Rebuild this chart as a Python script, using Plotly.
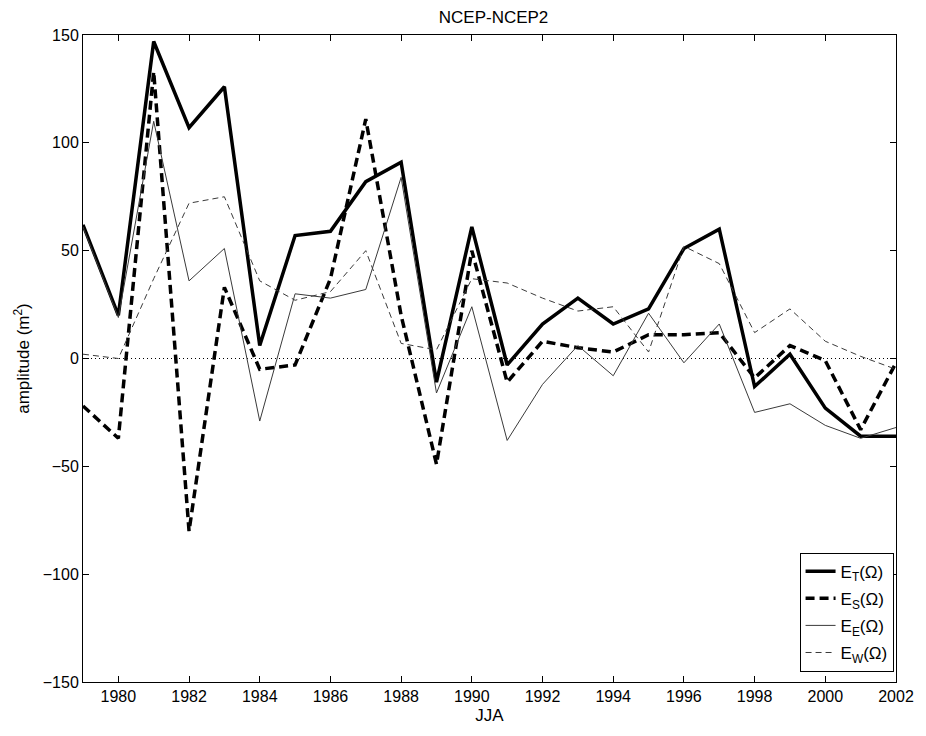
import plotly.graph_objects as go

# JJA seasons
years = list(range(1979, 2003))

# Energy amplitude components (m^2)
e_total = [62, 20, 147, 107, 126, 6, 57, 59, 82, 91, -11, 61, -3, 16, 28, 16, 23,
           51, 60, -13, 2, -23, -36, -36]
e_s = [-22, -37, 133, -80, 33, -5, -3, 37, 111, 20, -49, 50, -11, 8, 5, 3, 11,
       11, 12, -9, 6, -1, -33, -2]
e_e = [61, 19, 110, 36, 51, -29, 30, 28, 32, 84, -16, 24, -38, -12, 6, -8, 21,
       -2, 16, -25, -21, -31, -37, -32]
e_w = [2, 0, 37, 72, 75, 36, 27, 31, 50, 7, 4, 37, 35, 28, 22, 24, 3,
       52, 44, 12, 23, 8, 1, -5]

x_ticks = list(range(1980, 2003, 2))
y_ticks = [-150, -100, -50, 0, 50, 100, 150]

FONT = "Liberation Sans, Arial, Helvetica, sans-serif"

fig = go.Figure()

fig.add_trace(go.Scatter(x=[years[0], years[-1]], y=[0, 0], mode="lines",
                         line=dict(color="black", width=1, dash="1px,3px"),
                         showlegend=False, hoverinfo="skip"))

fig.add_trace(go.Scatter(x=years, y=e_total, mode="lines", name="E<sub>T</sub>(Ω)",
                         legendgroup="t", line=dict(color="black", width=3.5)))
fig.add_trace(go.Scatter(x=years, y=e_s, mode="lines", name="E<sub>S</sub>(Ω)",
                         legendgroup="s",
                         line=dict(color="black", width=3.5, dash="9px,5px")))
fig.add_trace(go.Scatter(x=years, y=e_e, mode="lines", name="E<sub>E</sub>(Ω)",
                         legendgroup="e", line=dict(color="#3a3a3a", width=1)))
fig.add_trace(go.Scatter(x=years, y=e_w, mode="lines", name="E<sub>W</sub>(Ω)",
                         legendgroup="w",
                         line=dict(color="#3a3a3a", width=1, dash="6px,4px")))

axis_common = dict(
    showline=True, linecolor="black", linewidth=1, mirror="ticks",
    ticks="inside", ticklen=6, tickcolor="black", tickwidth=1,
    showgrid=False, zeroline=False,
    tickfont=dict(family=FONT, size=16, color="black"),
)

fig.update_layout(
    width=926, height=736,
    margin=dict(l=83, r=22, t=35, b=54),
    paper_bgcolor="white", plot_bgcolor="white",
    font=dict(family=FONT, size=16, color="black"),
    title=dict(text="NCEP-NCEP2", x=0.533, xanchor="center", y=0.985, yanchor="top",
               font=dict(family=FONT, size=17, color="black")),
    xaxis=dict(range=[1979, 2002], tickvals=x_ticks,
               title=dict(text="JJA", standoff=4,
                          font=dict(family=FONT, size=17)),
               **axis_common),
    yaxis=dict(range=[-150, 150], tickvals=y_ticks,
               title=dict(text="amplitude (m<sup>2</sup>)", standoff=8,
                          font=dict(family=FONT, size=17)),
               **axis_common),
    legend=dict(x=0.997, xanchor="right", y=0.016, yanchor="bottom",
                bgcolor="white", bordercolor="black", borderwidth=1,
                font=dict(family=FONT, size=17, color="black"),
                tracegroupgap=2, itemwidth=30),
    showlegend=True,
)

fig.write_html("out.html")
